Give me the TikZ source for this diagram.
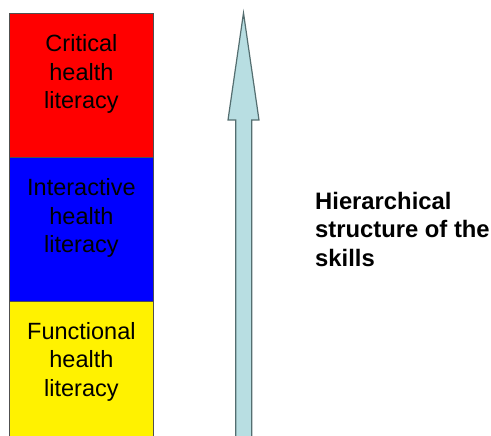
\documentclass[tikz,border=0pt]{standalone}
\usepackage{fontspec}
\setmainfont{Liberation Sans}
\usetikzlibrary{positioning}

\definecolor{arrowfill}{RGB}{184,222,226}
\definecolor{arrowline}{RGB}{84,110,112}
\definecolor{boxline}{RGB}{80,80,80}

\tikzset{
  level/.style={draw=boxline, line width=0.8pt, minimum width=144pt,
    minimum height=144pt, inner sep=0pt, anchor=north west},
  leveltext/.style={align=center, inner sep=0pt,
    font=\fontsize{23.5}{28.5}\selectfont},
}

\begin{document}
\begin{tikzpicture}[x=1pt,y=-1pt]
\useasboundingbox (0,0) rectangle (491,436);
% skill levels, top down
\node[level, fill=red] (crit) at (9,13) {};
\node[level, fill=blue, minimum height=143.5pt] (inter) at (9,157) {};
\node[level, fill=yellow, minimum height=150pt] (func) at (9,300.5) {};
%
\node[leveltext, below=21.5pt of crit.north] (critlbl) {Critical\\health\\literacy};
\node[leveltext, below=21.5pt of inter.north] (interlbl) {Interactive\\health\\literacy};
\node[leveltext, below=21.5pt of func.north] (funclbl) {Functional\\health\\literacy};
% upward arrow
\draw[arrowline, fill=arrowfill, line width=1.2pt, line join=miter]
  (235.7,450) -- (235.7,120) -- (228,120) -- (243.5,13) -- (259,120)
  -- (251.7,120) -- (251.7,450) -- cycle;
% caption
\node[anchor=north west, align=left, inner sep=0pt,
  font=\fontsize{23.8}{28.5}\selectfont\bfseries] (hier) at (315,192)
  {Hierarchical\\structure of the\\skills};
\end{tikzpicture}
\end{document}
